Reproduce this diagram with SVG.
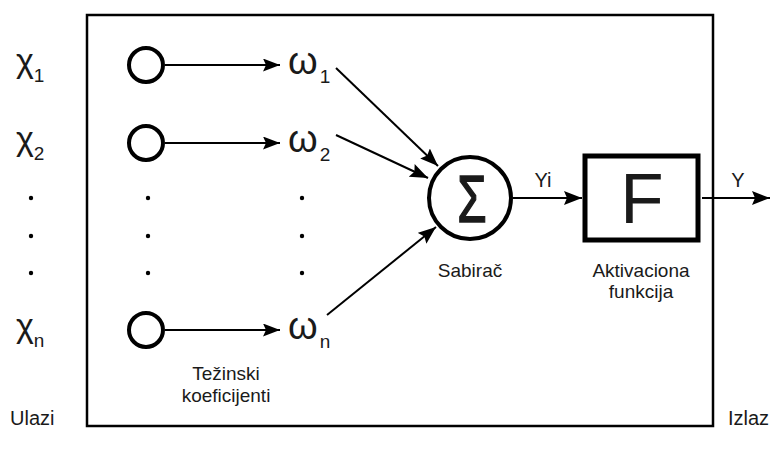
<svg xmlns="http://www.w3.org/2000/svg" width="771" height="461" viewBox="0 0 771 461">
<defs>
<marker id="ah" viewBox="0 0 17 13" refX="17" refY="6.5" markerWidth="17" markerHeight="13" markerUnits="userSpaceOnUse" orient="auto"><path d="M0,0 L17,6.5 L0,13 L3,6.5 Z" fill="#000"/></marker>
<marker id="ah2" viewBox="0 0 18 14" refX="18" refY="7" markerWidth="18" markerHeight="14" markerUnits="userSpaceOnUse" orient="auto"><path d="M0,0 L18,7 L0,14 L3,7 Z" fill="#000"/></marker>
</defs>
<style>
text{font-family:"Liberation Sans",Arial,sans-serif;fill:#1a1a1a}
.big{font-size:34px}
.om{font-size:38px}
.sub{font-size:19px}
.lbl{font-size:19px;text-anchor:middle}
.io{font-size:20px}
.in{fill:none;stroke:#000;stroke-width:4}
.c{stroke:#000;stroke-width:2;fill:none}
.dot{fill:#000}
</style>
<rect width="771" height="461" fill="#fff"/>
<g id="frame"><rect x="87" y="15" width="626" height="411" fill="none" stroke="#000" stroke-width="2.5"/></g>
<g id="connectors">
<line class="c" x1="165" y1="65" x2="280" y2="65" marker-end="url(#ah)"/>
<line class="c" x1="165" y1="143" x2="280" y2="143" marker-end="url(#ah)"/>
<line class="c" x1="165" y1="330" x2="280" y2="330" marker-end="url(#ah)"/>
<line class="c" x1="336" y1="68" x2="438" y2="166" marker-end="url(#ah2)"/>
<line class="c" x1="336" y1="135" x2="428" y2="178" marker-end="url(#ah2)"/>
<line class="c" x1="327" y1="315" x2="436" y2="227" marker-end="url(#ah2)"/>
<line class="c" x1="513" y1="198" x2="582" y2="198" marker-end="url(#ah2)"/>
<line class="c" x1="702" y1="198" x2="770" y2="198" marker-end="url(#ah2)"/>
</g>
<g id="inputs">
<text class="big" x="16" y="72">χ<tspan class="sub" dy="10">1</tspan></text>
<text class="big" x="16" y="150">χ<tspan class="sub" dy="10">2</tspan></text>
<text class="big" x="16" y="337">χ<tspan class="sub" dy="10">n</tspan></text>
<circle class="dot" cx="31" cy="198" r="2.2"/><circle class="dot" cx="31" cy="236" r="2.2"/><circle class="dot" cx="31" cy="273" r="2.2"/>
<text class="io" x="10" y="425">Ulazi</text>
</g>
<g id="node-x1"><circle class="in" cx="146" cy="65" r="17"/></g>
<g id="node-x2"><circle class="in" cx="146" cy="143" r="17"/></g>
<g id="node-xn"><circle class="in" cx="146" cy="330" r="17"/></g>
<g id="dots-mid">
<circle class="dot" cx="148" cy="198" r="2.2"/><circle class="dot" cx="148" cy="236" r="2.2"/><circle class="dot" cx="148" cy="273" r="2.2"/>
<circle class="dot" cx="302" cy="198" r="2.2"/><circle class="dot" cx="302" cy="236" r="2.2"/><circle class="dot" cx="302" cy="273" r="2.2"/>
</g>
<g id="weights">
<text class="om" x="288" y="74">ω<tspan class="sub" dx="2" dy="9">1</tspan></text>
<text class="om" x="288" y="152">ω<tspan class="sub" dx="2" dy="9">2</tspan></text>
<text class="om" x="288" y="339">ω<tspan class="sub" dx="2" dy="9">n</tspan></text>
<text class="lbl" x="226" y="380">Težinski</text>
<text class="lbl" x="226" y="402">koeficijenti</text>
</g>
<g id="node-sum">
<circle class="in" cx="470" cy="198" r="41"/>
<text font-size="66" text-anchor="middle" stroke="#1a1a1a" stroke-width="1.6" transform="translate(472,222) scale(0.72,1)">Σ</text>
<text class="lbl" x="470" y="277">Sabirač</text>
<text class="io" x="543" y="187" text-anchor="middle">Yi</text>
</g>
<g id="node-f">
<rect x="585" y="156" width="113" height="84" fill="#fff" stroke="#000" stroke-width="5"/>
<text x="642" y="223" font-size="71" text-anchor="middle">F</text>
<text class="lbl" x="641" y="277">Aktivaciona</text>
<text class="lbl" x="641" y="298">funkcija</text>
</g>
<g id="output">
<text class="io" x="738" y="187" text-anchor="middle">Y</text>
<text class="io" x="769" y="425" text-anchor="end">Izlaz</text>
</g>
</svg>
